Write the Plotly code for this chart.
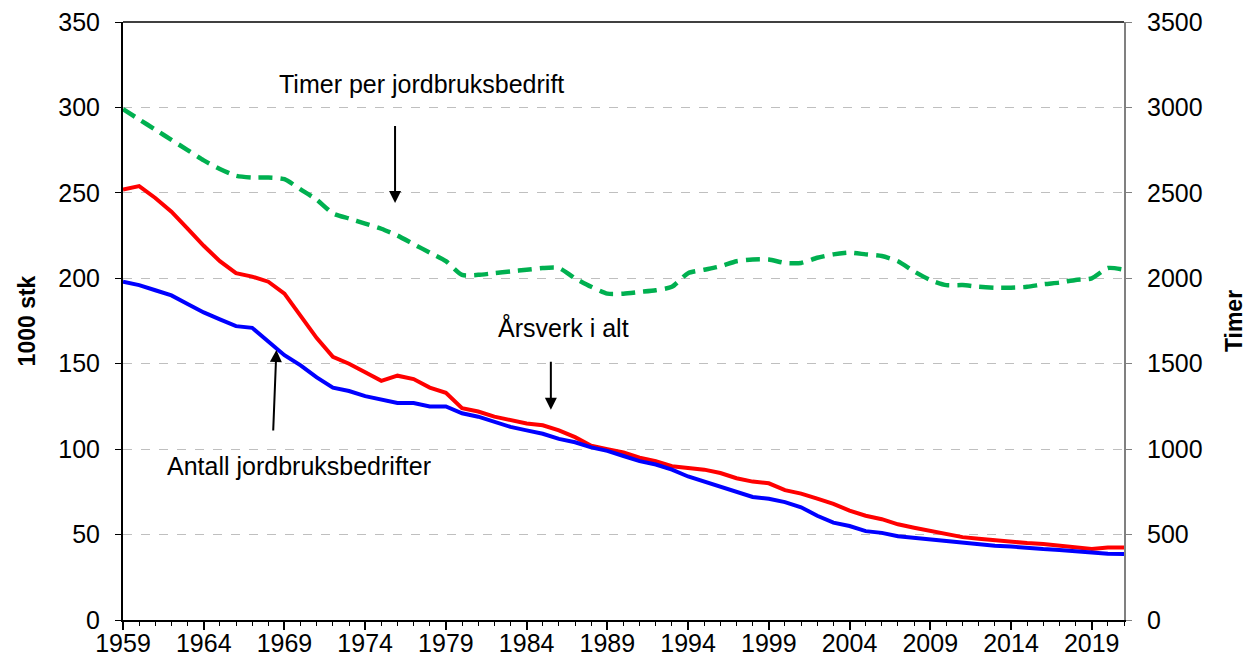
import plotly.graph_objects as go

years = list(range(1959, 2022))

antall_bedrifter = [198, 196, 193, 190, 185, 180, 176, 172, 171, 163,
                    155, 149, 142, 136, 134, 131, 129, 127, 127, 125,
                    125, 121, 119, 116, 113, 111, 109, 106, 104, 101,
                    99, 96, 93, 91, 88, 84, 81, 78, 75, 72,
                    71, 69, 66, 61, 57, 55, 52, 51, 49, 48,
                    47, 46, 45.5, 44.5, 43.5, 43, 42, 41.5, 41, 40,
                    39.5, 38.8, 38.7]

arsverk = [252, 254, 247, 239, 229, 219, 210, 203, 201, 198,
           191, 178, 165, 154, 150, 145, 140, 143, 141, 136,
           133, 124, 122, 119, 117, 115, 114, 111, 107, 102,
           100, 98, 95, 93, 90, 89, 88, 86, 83, 81,
           80, 76, 74, 71, 68, 64, 61, 59, 56, 54,
           52, 50, 48.5, 47.5, 46.5, 45.5, 45, 44.5, 43.5, 42.5,
           41.5, 42.5, 42.5]

timer_per_bedrift = [2990, 2930, 2870, 2810, 2750, 2690, 2640, 2600, 2590, 2590,
                     2580, 2520, 2460, 2380, 2350, 2320, 2290, 2250, 2200, 2150,
                     2100, 2020, 2020, 2030, 2040, 2050, 2060, 2060, 2000, 1950,
                     1910, 1910, 1920, 1930, 1950, 2030, 2050, 2070, 2100, 2110,
                     2110, 2090, 2090, 2120, 2140, 2150, 2140, 2130, 2100, 2040,
                     1990, 1960, 1960, 1950, 1945, 1945, 1950, 1965, 1975, 1990,
                     2000, 2060, 2050]

left_ticks = [0, 50, 100, 150, 200, 250, 300, 350]
right_ticks = [0, 500, 1000, 1500, 2000, 2500, 3000, 3500]
x_ticks = list(range(1959, 2022, 5))

FONT = "Liberation Sans, Arial, sans-serif"
TICK = 25

fig = go.Figure()
fig.add_trace(go.Scatter(x=years, y=arsverk, mode="lines", name="Årsverk i alt",
                         line=dict(color="#FF0000", width=4)))
fig.add_trace(go.Scatter(x=years, y=antall_bedrifter, mode="lines", name="Antall jordbruksbedrifter",
                         line=dict(color="#0000FF", width=4)))
fig.add_trace(go.Scatter(x=years, y=timer_per_bedrift, mode="lines", name="Timer per jordbruksbedrift",
                         yaxis="y2", line=dict(color="#00B050", width=4.5, dash="14px,8px",
                                               shape="spline", smoothing=0.6)))

fig.update_layout(
    width=1248, height=651,
    margin=dict(l=115, r=132, t=14, b=39, autoexpand=False),
    paper_bgcolor="white", plot_bgcolor="white",
    showlegend=False,
    font=dict(family=FONT, size=TICK, color="black"),
    xaxis=dict(range=[1959, 2021], tickmode="array", tickvals=x_ticks,
               ticktext=[str(v) for v in x_ticks], automargin=False,
               showgrid=False, zeroline=False,
               showline=True, linecolor="black", linewidth=2, mirror=False,
               ticks="outside", ticklen=8, tickwidth=1.5, tickcolor="black",
               ticklabelstandoff=-8,
               minor=dict(dtick=1, tick0=1959, ticks="outside", ticklen=4, tickcolor="black", tickwidth=1),
               ticklabeloverflow="allow", tickfont=dict(size=TICK)),
    yaxis=dict(range=[0, 350], tickmode="array", tickvals=left_ticks, automargin=False,
               showgrid=True, gridcolor="#BFBFBF", griddash="dash", gridwidth=1.2,
               zeroline=False, showline=True, linecolor="black", linewidth=2,
               ticks="outside", ticklen=6, tickcolor="black", ticklabelstandoff=10,
               ticklabeloverflow="allow",
               title=dict(text="<b>1000 stk</b>", font=dict(size=23), standoff=16),
               tickfont=dict(size=TICK)),
    yaxis2=dict(range=[0, 3500], tickmode="array", tickvals=right_ticks, automargin=False,
                overlaying="y", side="right", showgrid=False, zeroline=False,
                showline=True, linecolor="#808080", linewidth=2,
                ticks="outside", ticklen=6, tickcolor="#808080", ticklabelstandoff=10,
                ticklabeloverflow="allow",
                title=dict(text="<b>Timer</b>", font=dict(size=23), standoff=24),
                tickfont=dict(size=TICK)),
)

# top border line
fig.add_shape(type="line", xref="paper", yref="paper", x0=0, x1=1, y0=1, y1=1,
              line=dict(color="black", width=1.5))

ann_font = dict(family=FONT, size=25, color="black")
fig.add_annotation(x=1977.5, y=314, xref="x", yref="y", text="Timer per jordbruksbedrift",
                   showarrow=False, font=ann_font)
fig.add_annotation(x=1975.85, y=244, ax=1975.85, ay=290, xref="x", yref="y", axref="x", ayref="y",
                   text="", showarrow=True, arrowhead=2, arrowsize=1.2, arrowwidth=2, arrowcolor="black")
fig.add_annotation(x=1986.3, y=171, xref="x", yref="y", text="Årsverk i alt",
                   showarrow=False, font=ann_font)
fig.add_annotation(x=1985.5, y=123, ax=1985.5, ay=152, xref="x", yref="y", axref="x", ayref="y",
                   text="", showarrow=True, arrowhead=2, arrowsize=1.2, arrowwidth=2, arrowcolor="black")
fig.add_annotation(x=1969.9, y=90, xref="x", yref="y", text="Antall jordbruksbedrifter",
                   showarrow=False, font=ann_font)
fig.add_annotation(x=1968.5, y=158, ax=1968.3, ay=110, xref="x", yref="y", axref="x", ayref="y",
                   text="", showarrow=True, arrowhead=2, arrowsize=1.2, arrowwidth=2, arrowcolor="black")

fig.write_html("out.html")
